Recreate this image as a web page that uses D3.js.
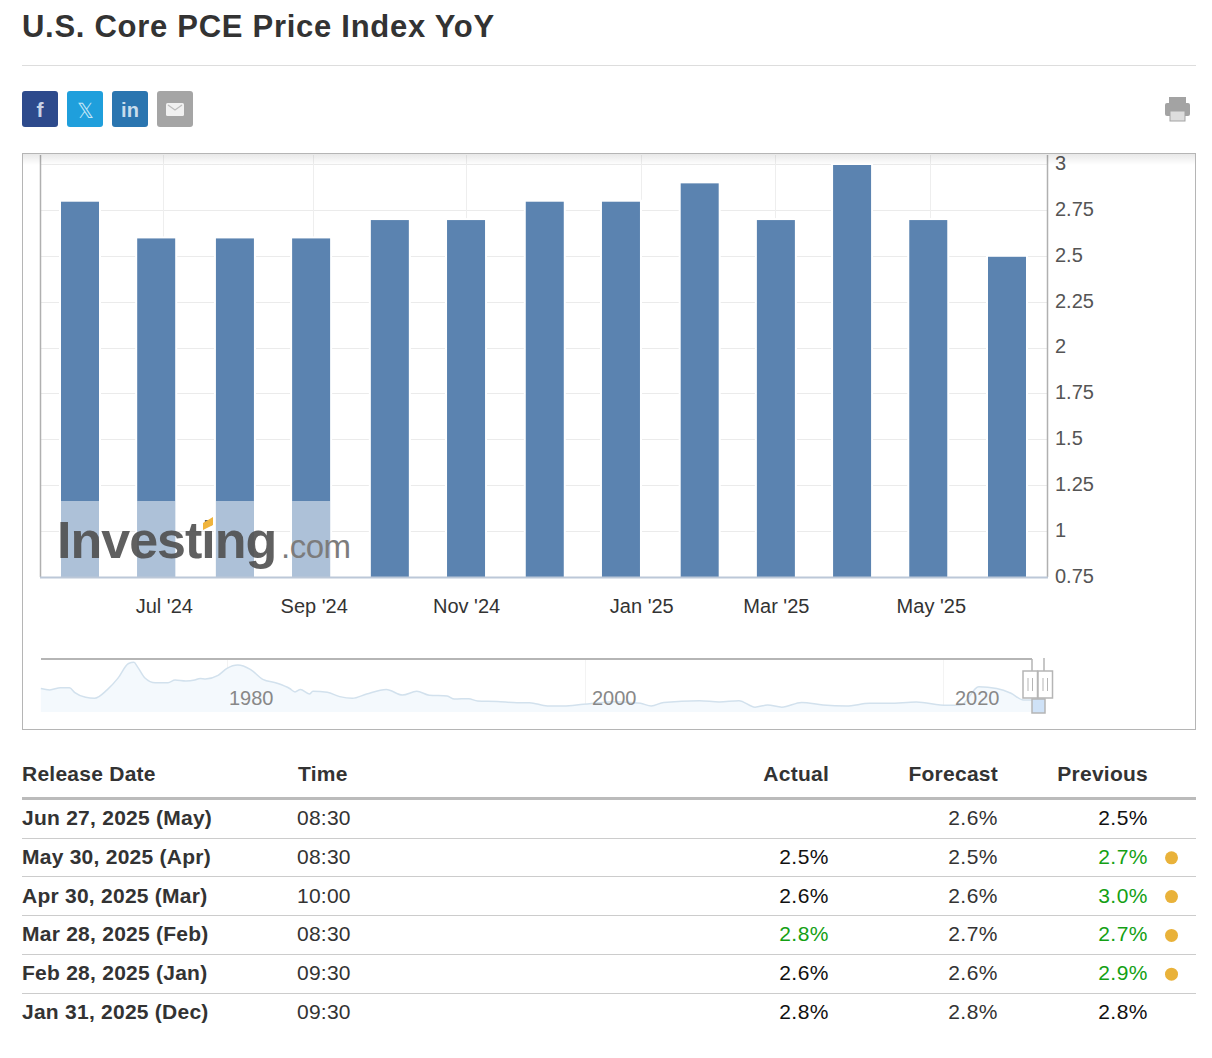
<!DOCTYPE html>
<html>
<head>
<meta charset="utf-8">
<script src="https://cdn.jsdelivr.net/npm/d3@7"></script>
<style>
  body { margin: 0; background: #fff; font-family: "Liberation Sans", Arial, sans-serif; }
  svg { display: block; }
  text { font-family: "Liberation Sans", Arial, sans-serif; }
</style>
</head>
<body>
<svg id="page" width="1212" height="1058"></svg>
<script>
// bar dates as they sit on the time axis of the picture
const months = ['2024-06-01', '2024-07-01', '2024-08-01', '2024-08-31', '2024-10-01', '2024-10-31', '2024-12-01',
  '2024-12-31', '2025-01-31', '2025-03-02', '2025-04-01', '2025-05-01', '2025-06-01'];
const values = [2.8, 2.6, 2.6, 2.6, 2.7, 2.7, 2.8, 2.8, 2.9, 2.7, 3.0, 2.7, 2.5];
const yTicks = [0.75, 1, 1.25, 1.5, 1.75, 2, 2.25, 2.5, 2.75, 3];
const xTickDates = ['2024-07-04', '2024-09-01', '2024-10-31', '2025-01-08', '2025-03-02', '2025-05-02'];
const xTickLabels = ["Jul '24", "Sep '24", "Nov '24", "Jan '25", "Mar '25", "May '25"];

// navigator history
const navYears = [1969.6, 1970.1, 1970.7, 1971.2, 1971.5, 1972.1, 1972.6, 1973.3, 1973.9, 1974.5, 1974.8, 1975, 1975.4,
  1976, 1976.7, 1977.1, 1977.7, 1978.2, 1978.5, 1978.8, 1979.5, 1980, 1980.6, 1981.3, 1982, 1982.8, 1983.5, 1983.8,
  1984.1, 1984.6, 1984.8, 1985.6, 1986.3, 1987, 1987.8, 1988.9, 1989.8, 1990.6, 1991.3, 1992.3, 1992.7, 1993.5, 1994,
  1995.1, 1996.2, 1996.9, 1997.9, 1998.8, 1999.9, 2001.6, 2003.1, 2003.7, 2004.4, 2006.4, 2007.5, 2008.6, 2009.5,
  2010.2, 2011, 2012.1, 2013.3, 2014.6, 2015.9, 2017, 2018.5, 2020.2, 2021, 2022, 2023, 2023.8, 2024.5, 2025.5];
const navValues = [4.9, 4.6, 5.06, 5.06, 4.03, 3.06, 2.85, 4.6, 7, 10.1, 10.35, 9.4, 7.15,
  6.1, 6.1, 6.67, 6.46, 6.67, 7, 6.9, 7.64, 9.1, 9.8, 8.9, 6.8, 6, 4.9, 4.17,
  4.7, 3.75, 4.3, 4.1, 3.2, 2.85, 3.75, 4.7, 3.54, 4.3, 3.5, 3.33, 2.7, 2.77, 2.3,
  2.2, 1.94, 1.94, 1.25, 1.25, 1.6, 2.15, 1.8, 1.25, 2, 2.35, 2.08, 2.35, 1,
  1.46, 1, 2, 1.46, 1.25, 1.8, 1.8, 2.08, 1.4, 1.46, 5.27, 4.9, 3.9, 2.5, 2.5];
const navTicks = [1980, 2000, 2020];

// table
const tableHeaders = ['Release Date', 'Time', 'Actual', 'Forecast', 'Previous'];
const releaseDates = ['Jun 27, 2025 (May)', 'May 30, 2025 (Apr)', 'Apr 30, 2025 (Mar)', 'Mar 28, 2025 (Feb)', 'Feb 28, 2025 (Jan)', 'Jan 31, 2025 (Dec)'];
const releaseTimes = ['08:30', '08:30', '10:00', '08:30', '09:30', '09:30'];
const actuals = ['', '2.5%', '2.6%', '2.8%', '2.6%', '2.8%'];
const forecasts = ['2.6%', '2.5%', '2.6%', '2.7%', '2.6%', '2.8%'];
const previous = ['2.5%', '2.7%', '3.0%', '2.7%', '2.9%', '2.8%'];
const actualBeat = [false, false, false, true, false, false];
const prevRevised = [false, true, true, true, true, false];

const svg = d3.select('#page');
const defs = svg.append('defs');
const shadow = defs.append('linearGradient').attr('id', 'topShade').attr('x1', 0).attr('x2', 0).attr('y1', 0).attr('y2', 1);
shadow.append('stop').attr('offset', 0).attr('stop-color', '#000').attr('stop-opacity', 0.09);
shadow.append('stop').attr('offset', 1).attr('stop-color', '#000').attr('stop-opacity', 0);

// heading
svg.append('text').attr('x', 22).attr('y', 37).attr('font-size', 31).attr('font-weight', 700)
  .attr('fill', '#333').attr('letter-spacing', 0.72).text('U.S. Core PCE Price Index YoY');
svg.append('line').attr('x1', 22).attr('x2', 1196).attr('y1', 65.5).attr('y2', 65.5).attr('stroke', '#ddd');

// share buttons
const shareColors = ['#2d4a8c', '#1f9fdc', '#2a75b0', '#a5a5a5'];
const share = svg.append('g');
shareColors.forEach((c, i) => {
  const g = share.append('g').attr('transform', `translate(${22 + i * 45},91)`);
  g.append('rect').attr('width', 36).attr('height', 36).attr('rx', 3).attr('fill', c);
  if (i === 0) g.append('text').attr('x', 18).attr('y', 26).attr('text-anchor', 'middle').attr('font-size', 21).attr('font-weight', 700).attr('fill', '#c9d3e6').text('f');
  if (i === 1) g.append('text').attr('x', 18).attr('y', 27).attr('text-anchor', 'middle').attr('font-size', 21).attr('fill', '#c4e6f7').text('𝕏');
  if (i === 2) g.append('text').attr('x', 18).attr('y', 26).attr('text-anchor', 'middle').attr('font-size', 20).attr('font-weight', 700).attr('fill', '#c8dcec').text('in');
  if (i === 3) {
    g.append('rect').attr('x', 9).attr('y', 12).attr('width', 18).attr('height', 13).attr('rx', 1.5).attr('fill', '#f1f1f1');
    g.append('path').attr('d', d3.line()([[11, 14], [18, 19], [25, 14]])).attr('fill', 'none').attr('stroke', '#bdbdbd').attr('stroke-width', 1.2);
  }
});

// printer icon
const printer = svg.append('g').attr('transform', 'translate(1165,97)').attr('fill', '#a3a3a3');
printer.append('rect').attr('x', 4).attr('width', 17).attr('height', 6);
printer.append('rect').attr('y', 6).attr('width', 25).attr('height', 13).attr('rx', 2);
printer.append('rect').attr('x', 5).attr('y', 14).attr('width', 15).attr('height', 10).attr('fill', '#ddd').attr('stroke', '#a3a3a3');

// chart frame
svg.append('rect').attr('x', 22.5).attr('y', 153.5).attr('width', 1173).attr('height', 576).attr('fill', '#fff').attr('stroke', '#b5b5b5');

const m = { left: 40, right: 1047, top: 155, bottom: 577 };
const x = d3.scaleUtc().domain([new Date('2024-06-01'), new Date('2025-06-01')]).range([80, 1007]);
const y = d3.scaleLinear().domain([0.75, 3]).range([m.bottom, 164]);

// grid
const chart = svg.append('g');
chart.append('g').selectAll('line').data(yTicks.slice(1)).join('line')
  .attr('x1', m.left).attr('x2', m.right).attr('y1', d => Math.round(y(d)) + 0.5).attr('y2', d => Math.round(y(d)) + 0.5)
  .attr('stroke', '#ebebeb');
chart.append('g').selectAll('line').data(xTickDates).join('line')
  .attr('x1', d => Math.floor(x(new Date(d))) + 0.5).attr('x2', d => Math.floor(x(new Date(d))) + 0.5)
  .attr('y1', m.top).attr('y2', m.bottom).attr('stroke', '#eeeeee');

// bars
chart.append('g').selectAll('rect').data(values).join('rect')
  .attr('x', (d, i) => x(new Date(months[i])) - 20)
  .attr('width', 40)
  .attr('y', d => y(d))
  .attr('height', d => y(0.75) - y(d) + 1)
  .attr('fill', '#5b83b0')
  .attr('stroke', '#fff')
  .attr('stroke-width', 2);

// logo watermark, the pale panel sits over the first four bars
const logo = chart.append('g');
logo.selectAll('rect').data(values.slice(0, 4)).join('rect')
  .attr('x', (d, i) => x(new Date(months[i])) - 19)
  .attr('width', 38)
  .attr('y', 501)
  .attr('height', 76)
  .attr('fill', '#fff')
  .attr('opacity', 0.5);
logo.append('text').attr('x', 57).attr('y', 558).attr('font-size', 52).attr('font-weight', 700)
  .attr('fill', '#4f4f4f').attr('opacity', 0.9).attr('letter-spacing', -1).text('Investing');
logo.append('text').attr('x', 281).attr('y', 558).attr('font-size', 33)
  .attr('fill', '#7c7c7c').attr('letter-spacing', -0.5).text('.com');
logo.append('path').attr('d', 'M203 523 L213 517 L213 525 L203 530 Z').attr('fill', '#f0b43c');

// axes
const xAxis = d3.axisBottom(x)
  .tickValues(xTickDates.map(d => new Date(d)))
  .tickFormat((d, i) => xTickLabels[i])
  .tickSize(0).tickPadding(22);
const xG = chart.append('g').attr('transform', `translate(0,${m.bottom})`).call(xAxis);
xG.select('.domain').remove();
xG.selectAll('text').attr('font-size', 20).attr('fill', '#333').attr('font-family', 'Liberation Sans');

const yAxis = d3.axisRight(y).tickValues(yTicks).tickFormat(d3.format('')).tickSize(0).tickPadding(8);
const yG = chart.append('g').attr('transform', `translate(${m.right},-1)`).call(yAxis);
yG.select('.domain').remove();
yG.selectAll('text').attr('font-size', 20).attr('fill', '#555').attr('font-family', 'Liberation Sans');

chart.append('line').attr('x1', m.left + 0.5).attr('x2', m.left + 0.5).attr('y1', m.top).attr('y2', m.bottom).attr('stroke', '#b0b0b0').attr('stroke-width', 1.5);
chart.append('line').attr('x1', m.right + 0.5).attr('x2', m.right + 0.5).attr('y1', m.top).attr('y2', m.bottom).attr('stroke', '#b0b0b0').attr('stroke-width', 1.5);
chart.append('line').attr('x1', m.left).attr('x2', m.right + 1).attr('y1', m.bottom + 0.5).attr('y2', m.bottom + 0.5).attr('stroke', '#bcc8d8').attr('stroke-width', 2);

// shade under the top edge of the chart box
svg.append('rect').attr('x', 23).attr('y', 154).attr('width', 1172).attr('height', 11).attr('fill', 'url(#topShade)');

// navigator
const nav = svg.append('g');
const nx = d3.scaleLinear().domain([1980, 2020]).range([227, 943]);
const nLabel = d3.scaleLinear().domain([1980, 2020]).range([229, 955]);
const ny = d3.scaleLinear().domain([2.5, 10]).range([700, 664]);
const navBase = 712;
const navPts = navYears.map((yr, i) => [nx(yr), ny(navValues[i])]);
nav.append('g').selectAll('line').data(navTicks).join('line')
  .attr('x1', d => nx(d) + 0.5).attr('x2', d => nx(d) + 0.5).attr('y1', 660).attr('y2', navBase).attr('stroke', '#f3f3f3');
nav.append('path')
  .attr('d', d3.area().x(d => d[0]).y0(navBase).y1(d => d[1]).curve(d3.curveMonotoneX)(navPts))
  .attr('fill', '#f4f9fd');
nav.append('path')
  .attr('d', d3.line().curve(d3.curveMonotoneX)(navPts))
  .attr('fill', 'none').attr('stroke', '#d2e1ed').attr('stroke-width', 1.5);
nav.selectAll('text').data(navTicks).join('text')
  .attr('x', d => nLabel(d)).attr('y', 705).attr('font-size', 20).attr('fill', '#888')
  .text(d => d);
nav.append('line').attr('x1', 41).attr('x2', 1032).attr('y1', 659).attr('y2', 659).attr('stroke', '#b5b5b5').attr('stroke-width', 2);
nav.append('line').attr('x1', 1032).attr('x2', 1032).attr('y1', 659).attr('y2', 672).attr('stroke', '#b5b5b5').attr('stroke-width', 1.5);
nav.append('line').attr('x1', 1044).attr('x2', 1044).attr('y1', 658).attr('y2', 672).attr('stroke', '#b5b5b5').attr('stroke-width', 1.5);
nav.append('rect').attr('x', 1032).attr('y', 699).attr('width', 13).attr('height', 14)
  .attr('fill', '#cfe2f7').attr('stroke', '#b5b5b5').attr('stroke-width', 1.5);
[1023, 1038].forEach(hx => {
  const h = nav.append('g').attr('transform', `translate(${hx},671)`);
  h.append('rect').attr('width', 14.5).attr('height', 27).attr('fill', '#fff').attr('stroke', '#b5b5b5').attr('stroke-width', 1.5);
  [5, 9.5].forEach(t => h.append('line').attr('x1', t).attr('x2', t).attr('y1', 7).attr('y2', 20).attr('stroke', '#b5b5b5'));
});

// table
const table = svg.append('g');
const colX = { date: 22, time: 297, actual: 829, forecast: 998, prev: 1148 };
const headerX = [22, 298, 829, 998, 1148];
const headerAnchor = ['start', 'start', 'end', 'end', 'end'];
table.selectAll('text.head').data(tableHeaders).join('text').attr('class', 'head')
  .attr('x', (d, i) => headerX[i]).attr('y', 781).attr('text-anchor', (d, i) => headerAnchor[i])
  .attr('font-size', 21).attr('font-weight', 700).attr('fill', '#333').attr('letter-spacing', 0.25).text(d => d);
table.append('line').attr('x1', 22).attr('x2', 1196).attr('y1', 798.5).attr('y2', 798.5).attr('stroke', '#bbb').attr('stroke-width', 3);

const rowY = d3.scaleLinear().domain([0, 5]).range([825, 1019]);
releaseDates.forEach((d, i) => {
  const ty = rowY(i);
  const row = table.append('g');
  row.append('text').attr('x', colX.date).attr('y', ty).attr('font-size', 21).attr('font-weight', 700).attr('fill', '#333').attr('letter-spacing', 0.25).text(d);
  row.append('text').attr('x', colX.time).attr('y', ty).attr('font-size', 21).attr('fill', '#333').attr('letter-spacing', 0.25).text(releaseTimes[i]);
  row.append('text').attr('x', colX.actual).attr('y', ty).attr('text-anchor', 'end').attr('font-size', 21).attr('letter-spacing', 0.5)
    .attr('fill', actualBeat[i] ? '#14a014' : '#111').text(actuals[i]);
  row.append('text').attr('x', colX.forecast).attr('y', ty).attr('text-anchor', 'end').attr('font-size', 21).attr('letter-spacing', 0.5).attr('fill', '#333').text(forecasts[i]);
  row.append('text').attr('x', colX.prev).attr('y', ty).attr('text-anchor', 'end').attr('font-size', 21).attr('letter-spacing', 0.5)
    .attr('fill', prevRevised[i] ? '#14a014' : '#111').text(previous[i]);
  if (prevRevised[i]) {
    row.append('circle').attr('cx', 1171.5).attr('cy', ty - 6).attr('r', 6.5).attr('fill', '#e9b23a');
  }
  if (i < 5) {
    row.append('line').attr('x1', 22).attr('x2', 1196).attr('y1', Math.floor(ty + 13) + 0.5).attr('y2', Math.floor(ty + 13) + 0.5).attr('stroke', '#ccc');
  }
});
</script>
</body>
</html>
